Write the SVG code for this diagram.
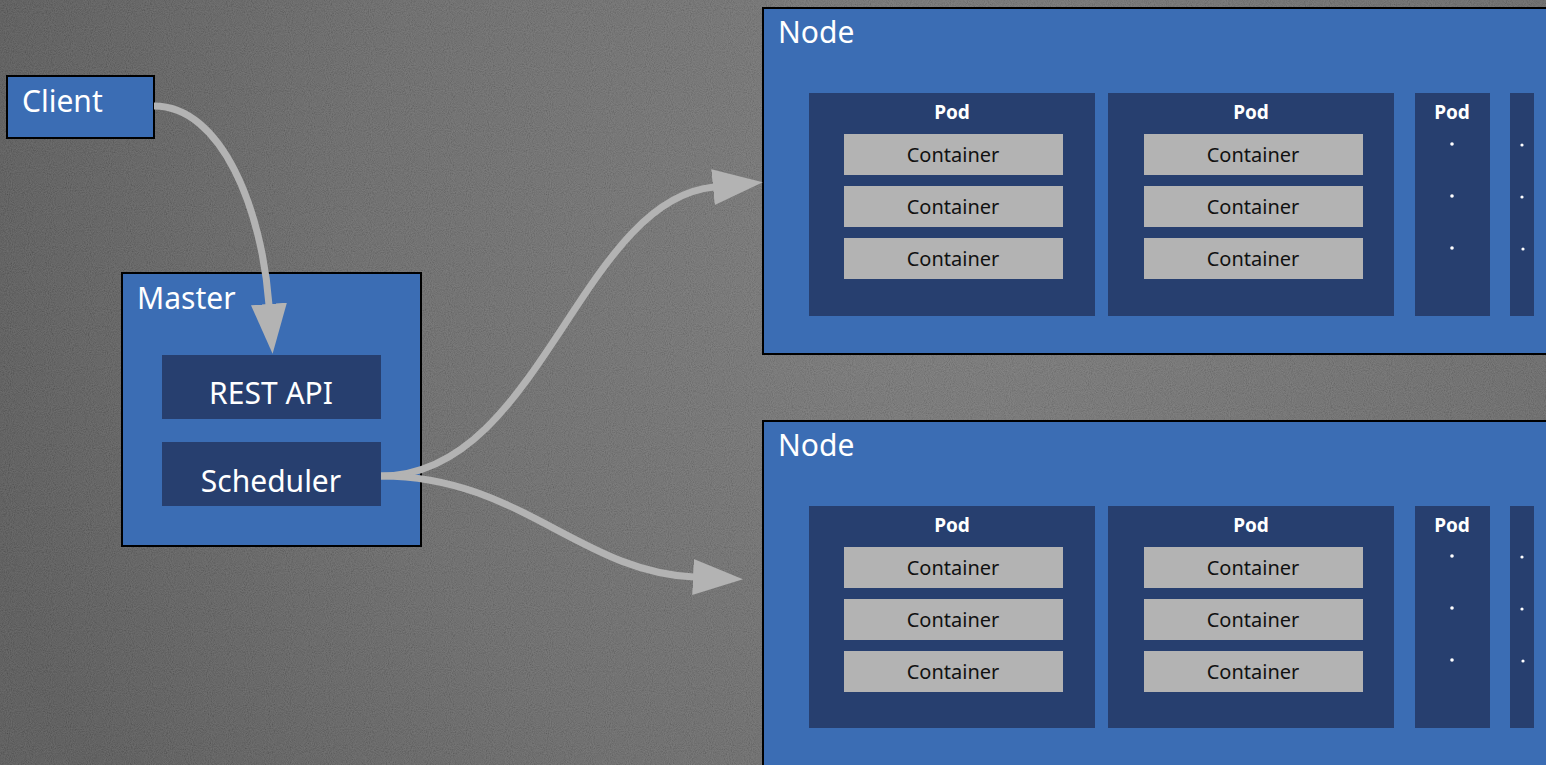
<svg xmlns="http://www.w3.org/2000/svg" width="1546" height="765" viewBox="0 0 1546 765">
<defs>
<radialGradient id="bg" cx="950" cy="250" r="1000" gradientUnits="userSpaceOnUse">
<stop offset="0" stop-color="#747474"/>
<stop offset="0.6" stop-color="#636363"/>
<stop offset="1" stop-color="#505050"/>
</radialGradient>
<filter id="noise" x="0" y="0" width="100%" height="100%">
<feTurbulence type="fractalNoise" baseFrequency="0.95" numOctaves="2" seed="3"/>
<feColorMatrix type="matrix" values="1 0 0 0 -0.05  1 0 0 0 -0.05  1 0 0 0 -0.05  0 0 0 0 0.18"/>
</filter>
<marker id="ah" markerUnits="userSpaceOnUse" markerWidth="52" markerHeight="38" refX="1" refY="18" orient="auto" viewBox="0 0 52 36">
<path d="M0,0 L50,18 L0,36 z" fill="#b3b3b3"/>
</marker>
<style>
.box{fill:#3b6db4;stroke:#000;stroke-width:2}
.inner{fill:#273f6f}
.cont{fill:#b3b3b3}
.lbl{font-family:"Noto Sans","Open Sans",sans-serif;font-size:30px;fill:#fff}
.mid{text-anchor:middle}
.pod{font-family:"Noto Sans","Open Sans",sans-serif;font-size:19px;font-weight:bold;fill:#fff;text-anchor:middle}
.ct{font-family:"Noto Sans","Open Sans",sans-serif;font-size:20px;fill:#111;text-anchor:middle}
.dot{fill:#fff}
.conn{fill:none;stroke:#b3b3b3;stroke-width:7;marker-end:url(#ah)}
</style>
</defs>
<rect width="1546" height="765" fill="url(#bg)"/>
<rect width="1546" height="765" filter="url(#noise)"/>

<g id="client">
<rect class="box" x="7" y="76" width="147" height="62"/>
<text class="lbl" x="22" y="112">Client</text>
</g>

<g id="master">
<rect class="box" x="122" y="273" width="299" height="273"/>
<text class="lbl" x="137" y="309">Master</text>
<g id="rest-api">
<rect class="inner" x="162" y="355" width="219" height="64"/>
<text class="lbl mid" x="271" y="404">REST API</text>
</g>
<g id="scheduler">
<rect class="inner" x="162" y="442" width="219" height="64"/>
<text class="lbl mid" x="271" y="492">Scheduler</text>
</g>
</g>

<g id="node1">
<rect class="box" x="763" y="8" width="800" height="346"/>
<text class="lbl" x="778" y="43">Node</text>
<g id="node1-pod1">
<rect class="inner" x="809" y="93" width="286" height="223"/>
<text class="pod" x="952" y="119">Pod</text>
<rect class="cont" x="844" y="134" width="219" height="41"/>
<text class="ct" x="953" y="162">Container</text>
<rect class="cont" x="844" y="186" width="219" height="41"/>
<text class="ct" x="953" y="214">Container</text>
<rect class="cont" x="844" y="238" width="219" height="41"/>
<text class="ct" x="953" y="266">Container</text>
</g>
<g id="node1-pod2">
<rect class="inner" x="1108" y="93" width="286" height="223"/>
<text class="pod" x="1251" y="119">Pod</text>
<rect class="cont" x="1144" y="134" width="219" height="41"/>
<text class="ct" x="1253" y="162">Container</text>
<rect class="cont" x="1144" y="186" width="219" height="41"/>
<text class="ct" x="1253" y="214">Container</text>
<rect class="cont" x="1144" y="238" width="219" height="41"/>
<text class="ct" x="1253" y="266">Container</text>
</g>
<g id="node1-pod3">
<rect class="inner" x="1415" y="93" width="75" height="223"/>
<text class="pod" x="1452" y="119">Pod</text>
<circle class="dot" cx="1452" cy="144" r="1.8"/>
<circle class="dot" cx="1452" cy="196" r="1.8"/>
<circle class="dot" cx="1452" cy="248" r="1.8"/>
</g>
<g id="node1-pod4">
<rect class="inner" x="1510" y="93" width="24" height="223"/>
<circle class="dot" cx="1522" cy="145" r="1.6"/>
<circle class="dot" cx="1522" cy="197" r="1.6"/>
<circle class="dot" cx="1523" cy="249" r="1.6"/>
</g>
</g>

<g id="node2">
<rect class="box" x="763" y="421" width="800" height="360"/>
<text class="lbl" x="778" y="456">Node</text>
<g id="node2-pod1">
<rect class="inner" x="809" y="506" width="286" height="222"/>
<text class="pod" x="952" y="532">Pod</text>
<rect class="cont" x="844" y="547" width="219" height="41"/>
<text class="ct" x="953" y="575">Container</text>
<rect class="cont" x="844" y="599" width="219" height="41"/>
<text class="ct" x="953" y="627">Container</text>
<rect class="cont" x="844" y="651" width="219" height="41"/>
<text class="ct" x="953" y="679">Container</text>
</g>
<g id="node2-pod2">
<rect class="inner" x="1108" y="506" width="286" height="222"/>
<text class="pod" x="1251" y="532">Pod</text>
<rect class="cont" x="1144" y="547" width="219" height="41"/>
<text class="ct" x="1253" y="575">Container</text>
<rect class="cont" x="1144" y="599" width="219" height="41"/>
<text class="ct" x="1253" y="627">Container</text>
<rect class="cont" x="1144" y="651" width="219" height="41"/>
<text class="ct" x="1253" y="679">Container</text>
</g>
<g id="node2-pod3">
<rect class="inner" x="1415" y="506" width="75" height="222"/>
<text class="pod" x="1452" y="532">Pod</text>
<circle class="dot" cx="1452" cy="556" r="1.8"/>
<circle class="dot" cx="1452" cy="608" r="1.8"/>
<circle class="dot" cx="1452" cy="660" r="1.8"/>
</g>
<g id="node2-pod4">
<rect class="inner" x="1510" y="506" width="24" height="222"/>
<circle class="dot" cx="1522" cy="557" r="1.6"/>
<circle class="dot" cx="1522" cy="609" r="1.6"/>
<circle class="dot" cx="1523" cy="661" r="1.6"/>
</g>
</g>

<g id="connectors">
<path class="conn" d="M154,106 C222,106 262,210 269,305"/>
<path class="conn" d="M381,476 C540,476 580,200 714,187"/>
<path class="conn" d="M381,476 C520,476 580,572 694,577"/>
</g>
</svg>
